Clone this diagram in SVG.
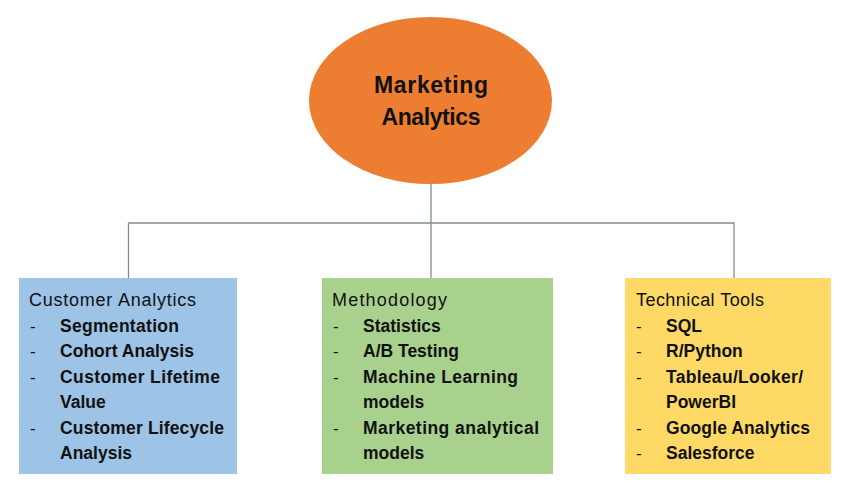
<svg xmlns="http://www.w3.org/2000/svg" width="847" height="497" viewBox="0 0 847 497">
<style>
text{font-family:"Liberation Sans",Arial,sans-serif;fill:#111;}
.hub{font-size:23px;font-weight:bold;}
.ttl{font-size:18px;}
.itm{font-size:17.5px;font-weight:bold;}
.dash{font-size:17px;}
.conn{stroke:#7f8e93;stroke-width:1.3;fill:none;}
</style>
<rect width="847" height="497" fill="#fff"/>
<g id="connectors">
<path class="conn" d="M431 184 V223 M128.5 278 V223 H734 V278 M431 223 V278"/>
</g>
<g id="hub">
<ellipse cx="430.5" cy="100.5" rx="121.5" ry="83.5" fill="#ED7D31"/>
<text class="hub" x="431" y="93" text-anchor="middle" textLength="114">Marketing</text>
<text class="hub" x="431" y="125" text-anchor="middle" textLength="99">Analytics</text>
</g>
<g id="customer-analytics">
<rect x="19" y="278" width="218" height="196" fill="#9DC3E6"/>
<text class="ttl" x="29" y="305.5" textLength="167">Customer Analytics</text>
<text class="dash" x="30" y="331.5">-</text>
<text class="itm" x="60" y="331.5" textLength="119">Segmentation</text>
<text class="dash" x="30" y="357">-</text>
<text class="itm" x="60" y="357" textLength="134">Cohort Analysis</text>
<text class="dash" x="30" y="382.5">-</text>
<text class="itm" x="60" y="382.5" textLength="160">Customer Lifetime</text>
<text class="itm" x="60" y="408">Value</text>
<text class="dash" x="30" y="433.5">-</text>
<text class="itm" x="60" y="433.5" textLength="164">Customer Lifecycle</text>
<text class="itm" x="60" y="459">Analysis</text>
</g>
<g id="methodology">
<rect x="322" y="278" width="231" height="196" fill="#A9D18E"/>
<text class="ttl" x="332" y="305.5" textLength="115">Methodology</text>
<text class="dash" x="333" y="331.5">-</text>
<text class="itm" x="363" y="331.5">Statistics</text>
<text class="dash" x="333" y="357">-</text>
<text class="itm" x="363" y="357">A/B Testing</text>
<text class="dash" x="333" y="382.5">-</text>
<text class="itm" x="363" y="382.5" textLength="155">Machine Learning</text>
<text class="itm" x="363" y="408">models</text>
<text class="dash" x="333" y="433.5">-</text>
<text class="itm" x="363" y="433.5" textLength="176">Marketing analytical</text>
<text class="itm" x="363" y="459">models</text>
</g>
<g id="technical-tools">
<rect x="625" y="278" width="206" height="196" fill="#FFD966"/>
<text class="ttl" x="636" y="305.5" textLength="128">Technical Tools</text>
<text class="dash" x="636" y="331.5">-</text>
<text class="itm" x="666" y="331.5">SQL</text>
<text class="dash" x="636" y="357">-</text>
<text class="itm" x="666" y="357">R/Python</text>
<text class="dash" x="636" y="382.5">-</text>
<text class="itm" x="666" y="382.5" textLength="137">Tableau/Looker/</text>
<text class="itm" x="666" y="408">PowerBI</text>
<text class="dash" x="636" y="433.5">-</text>
<text class="itm" x="666" y="433.5" textLength="144">Google Analytics</text>
<text class="dash" x="636" y="459">-</text>
<text class="itm" x="666" y="459">Salesforce</text>
</g>
</svg>
